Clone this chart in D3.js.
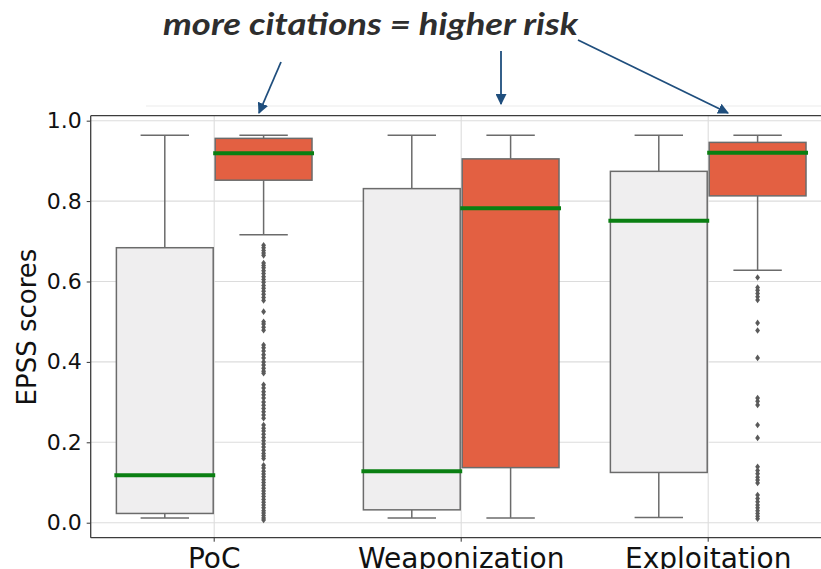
<!DOCTYPE html>
<html>
<head>
<meta charset="utf-8">
<script src="https://cdn.jsdelivr.net/npm/d3@7"></script>
<style>
  body { margin: 0; background: #fff; }
  svg { display: block; }
</style>
</head>
<body>
<div id="chart"></div>
<script>
// categories and hue groups
const categories = ["PoC", "Weaponization", "Exploitation"];
const groups = ["fewer", "more"];

// box stats per category: [whiskerLow, q1, median, q3, whiskerHigh]
const fewerStats = [
    [0.012, 0.023, 0.118, 0.684, 0.964],
    [0.012, 0.032, 0.128, 0.831, 0.964],
    [0.013, 0.125, 0.751, 0.874, 0.964]
];
const moreStats = [
    [0.716, 0.852, 0.919, 0.956, 0.964],
    [0.012, 0.137, 0.782, 0.905, 0.964],
    [0.628, 0.813, 0.920, 0.946, 0.964]
];

// outliers of the "more citations" boxes
const pocOutliers = [0.690, 0.684, 0.677, 0.671, 0.665, 0.646, 0.640, 0.634, 0.627, 0.620,
    0.612, 0.605, 0.598, 0.590, 0.583, 0.576, 0.568, 0.560, 0.553, 0.525, 0.500, 0.494,
    0.486, 0.479, 0.442, 0.435, 0.427, 0.418, 0.410, 0.400, 0.392, 0.384, 0.377, 0.372,
    0.343, 0.335, 0.326, 0.318, 0.310, 0.300, 0.292, 0.284, 0.276, 0.268, 0.260, 0.243,
    0.235, 0.228, 0.220, 0.212, 0.204, 0.196, 0.188, 0.180, 0.172, 0.166, 0.160, 0.143,
    0.136, 0.128, 0.121, 0.114, 0.107, 0.100, 0.093, 0.086, 0.079, 0.072, 0.065, 0.058,
    0.051, 0.044, 0.037, 0.030, 0.024, 0.018, 0.012, 0.007];
const weaponOutliers = [];
const exploitOutliers = [0.610, 0.585, 0.578, 0.570, 0.562, 0.554, 0.497, 0.478, 0.410,
    0.310, 0.302, 0.293, 0.243, 0.211, 0.139, 0.130, 0.122, 0.113, 0.106, 0.099, 0.069,
    0.060, 0.052, 0.044, 0.037, 0.030, 0.023, 0.016, 0.010];
const outliers = [pocOutliers, weaponOutliers, exploitOutliers];

const yTicks = [0.0, 0.2, 0.4, 0.6, 0.8, 1.0];

const width = 821, height = 569;
const plotLeft = 90.7, plotTop = 115.7, plotBottom = 537.7;

const svg = d3.select("#chart").append("svg")
    .attr("width", width)
    .attr("height", height)
    .style("font-family", "'DejaVu Sans', sans-serif");

// scales
const x = d3.scaleBand()
    .domain(categories)
    .range([plotLeft, plotLeft + 3 * 247])
    .paddingInner(0.2)
    .paddingOuter(0.1);

const hue = d3.scaleBand()
    .domain(groups)
    .range([0, x.bandwidth()]);

const y = d3.scaleLinear()
    .domain([-0.0373, 1.0124])
    .range([plotBottom, plotTop]);

const colours = { fewer: "#efeeef", more: "#e36042" };

// faint line above the plot (screenshot artefact)
svg.append("line")
    .attr("x1", 146).attr("x2", width)
    .attr("y1", 106).attr("y2", 106)
    .attr("stroke", "#ececec").attr("stroke-width", 1.2);

// grid
let grid = svg.append("g").attr("id", "grid")
grid.selectAll(".hgrid")
    .data(yTicks)
    .enter()
    .append("line")
    .attr("x1", plotLeft).attr("x2", width)
    .attr("y1", d => y(d)).attr("y2", d => y(d))
    .attr("stroke", "#dcdcdc").attr("stroke-width", 1.1)

grid.selectAll(".vgrid")
    .data(categories)
    .enter()
    .append("line")
    .attr("x1", d => x(d) + x.bandwidth() / 2)
    .attr("x2", d => x(d) + x.bandwidth() / 2)
    .attr("y1", plotTop).attr("y2", plotBottom)
    .attr("stroke", "#dcdcdc").attr("stroke-width", 1.1)

// boxes
const boxW = hue.bandwidth() * 0.98;
const edge = "#6b6b6b";

function drawBoxes(stats, group) {
    let g = svg.append("g").attr("class", "boxes-" + group)
    stats.forEach((s, i) => {
        let cx = x(categories[i]) + hue(group) + hue.bandwidth() / 2;
        let [lo, q1, med, q3, hi] = s;

        // whiskers
        g.append("line")
            .attr("x1", cx).attr("x2", cx)
            .attr("y1", y(hi)).attr("y2", y(q3))
            .attr("stroke", edge).attr("stroke-width", 1.5)
        g.append("line")
            .attr("x1", cx).attr("x2", cx)
            .attr("y1", y(q1)).attr("y2", y(lo))
            .attr("stroke", edge).attr("stroke-width", 1.5)
        // caps
        ;[lo, hi].forEach(v => {
            g.append("line")
                .attr("x1", cx - boxW / 4).attr("x2", cx + boxW / 4)
                .attr("y1", y(v)).attr("y2", y(v))
                .attr("stroke", edge).attr("stroke-width", 1.5)
        })
        // box
        g.append("rect")
            .attr("x", cx - boxW / 2)
            .attr("y", y(q3))
            .attr("width", boxW)
            .attr("height", y(q1) - y(q3))
            .attr("fill", colours[group])
            .attr("stroke", edge)
            .attr("stroke-width", 1.5)
        // median
        g.append("line")
            .attr("class", "median")
            .attr("x1", cx - boxW / 2 - 2).attr("x2", cx + boxW / 2 + 2)
            .attr("y1", y(med)).attr("y2", y(med))
            .attr("stroke", "#0a7f12").attr("stroke-width", 4)
    })
}

drawBoxes(fewerStats, "fewer");
drawBoxes(moreStats, "more");

// medians on top of neighbouring boxes
svg.selectAll(".median").raise();

// outliers as thin diamonds
let fliers = svg.append("g").attr("id", "fliers")
outliers.forEach((list, i) => {
    let cx = x(categories[i]) + hue("more") + hue.bandwidth() / 2;
    fliers.selectAll(".f" + i)
        .data(list)
        .enter()
        .append("path")
        .attr("d", "M0,-3.3L2.4,0L0,3.3L-2.4,0Z")
        .attr("transform", d => `translate(${cx},${y(d)})`)
        .attr("fill", "#5a5a5a")
})

// axes
const yAxis = d3.axisLeft(y)
    .tickValues(yTicks)
    .tickFormat(d3.format(".1f"))
    .tickSize(4)
    .tickPadding(5);

let yg = svg.append("g")
    .attr("transform", `translate(${plotLeft},0)`)
    .call(yAxis)
yg.select(".domain").remove()
yg.selectAll("line").attr("stroke", "#333")
yg.selectAll("text")
    .attr("font-size", 22)
    .attr("fill", "#111")
    .style("font-family", "'DejaVu Sans', sans-serif")

const xAxis = d3.axisBottom(x)
    .tickSize(4)
    .tickPadding(6);

let xg = svg.append("g")
    .attr("transform", `translate(0,${plotBottom})`)
    .call(xAxis)
xg.select(".domain").remove()
xg.selectAll("line").attr("stroke", "#333")
xg.selectAll("text")
    .attr("font-size", 28)
    .attr("fill", "#111")
    .attr("dy", "0.71em")
    .style("font-family", "'DejaVu Sans', sans-serif")

// spines
const spine = "#3c3c3c";
svg.append("line").attr("x1", plotLeft).attr("x2", plotLeft).attr("y1", plotTop).attr("y2", plotBottom)
    .attr("stroke", spine).attr("stroke-width", 1.3)
svg.append("line").attr("x1", plotLeft).attr("x2", width).attr("y1", plotBottom).attr("y2", plotBottom)
    .attr("stroke", spine).attr("stroke-width", 1.3)
svg.append("line").attr("x1", plotLeft).attr("x2", width).attr("y1", plotTop).attr("y2", plotTop)
    .attr("stroke", spine).attr("stroke-width", 1.3)

// y label
svg.append("text")
    .text("EPSS scores")
    .attr("transform", "translate(36, 327) rotate(-90)")
    .attr("text-anchor", "middle")
    .attr("font-size", 26)
    .attr("fill", "#111")

// title annotation
svg.append("text")
    .text("more citations = higher risk")
    .attr("x", 163)
    .attr("y", 35)
    .attr("textLength", 415)
    .attr("lengthAdjust", "spacingAndGlyphs")
    .attr("font-size", 31)
    .attr("font-weight", "bold")
    .attr("font-style", "italic")
    .attr("fill", "#2e2e2e")
    .style("font-family", "Lato, 'Open Sans', sans-serif")

// arrows
const arrowColour = "#1f4e7d";
svg.append("defs").append("marker")
    .attr("id", "head")
    .attr("viewBox", "0 0 10 10")
    .attr("refX", 9).attr("refY", 5)
    .attr("markerWidth", 11).attr("markerHeight", 11)
    .attr("markerUnits", "userSpaceOnUse")
    .attr("orient", "auto")
    .append("path")
    .attr("d", "M0,0L10,5L0,10Z")
    .attr("fill", arrowColour)

const arrows = [
    [281, 62, 259, 113],
    [501, 51, 501, 104],
    [578, 40, 728, 113]
];
svg.append("g").selectAll("line")
    .data(arrows)
    .enter()
    .append("line")
    .attr("x1", d => d[0]).attr("y1", d => d[1])
    .attr("x2", d => d[2]).attr("y2", d => d[3])
    .attr("stroke", arrowColour)
    .attr("stroke-width", 1.8)
    .attr("marker-end", "url(#head)")
</script>
</body>
</html>
